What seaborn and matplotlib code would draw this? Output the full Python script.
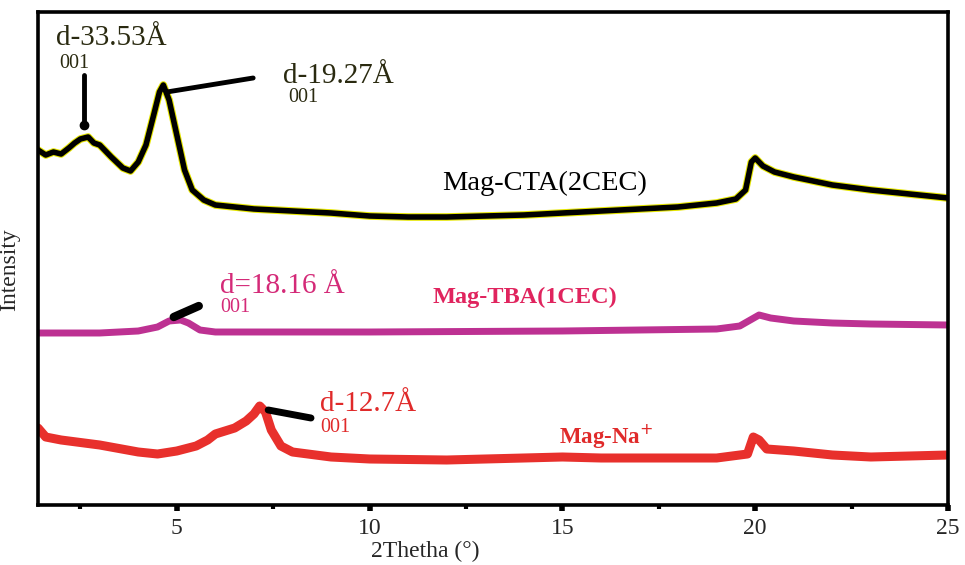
import numpy as np
import pandas as pd
import matplotlib
matplotlib.use("Agg")
import matplotlib.pyplot as plt
import matplotlib.patheffects as pe
import seaborn as sns

# ---- data ----
cta_x = [1.4, 1.6, 1.8, 2.0, 2.2, 2.35, 2.5, 2.7, 2.85, 3.0, 3.3, 3.6, 3.8, 4.0, 4.2, 4.4,
         4.55, 4.65, 4.8, 5.0, 5.2, 5.4, 5.7, 6.0, 6.5, 7.0, 8.0, 9.0, 10.0, 11.0, 12.0,
         13.0, 14.0, 15.0, 16.0, 17.0, 18.0, 19.0, 19.5, 19.75, 19.9, 20.0, 20.2, 20.5,
         21.0, 21.5, 22.0, 23.0, 24.0, 25.0]
cta_y = [355, 350, 353, 351, 357, 362, 366, 368, 362, 360, 348, 337, 334, 343, 360, 390,
         413, 420, 405, 370, 335, 315, 305, 300, 298, 296, 294, 292, 289, 288, 288,
         289, 290, 292, 294, 296, 298, 302, 306, 315, 343, 347, 339, 333,
         328, 324, 320, 315, 311, 307]

tba_x = [1.4, 3.0, 4.0, 4.5, 4.8, 5.1, 5.3, 5.6, 6.0, 10.0, 15.0, 19.0, 19.6, 20.1, 20.4,
         21.0, 22.0, 23.0, 25.0]
tba_y = [172, 172, 174, 178, 184, 185, 182, 175, 173, 173, 174, 176, 179, 190, 187,
         184, 182, 181, 180]

na_x = [1.4, 1.6, 2.0, 3.0, 4.0, 4.5, 5.0, 5.5, 5.8, 6.0, 6.5, 6.8, 7.0, 7.15, 7.3, 7.45,
        7.7, 8.0, 9.0, 10.0, 12.0, 14.0, 15.0, 16.0, 17.0, 19.0, 19.8, 19.95, 20.1, 20.3,
        21.0, 22.0, 23.0, 24.0, 25.0]
na_y = [77, 68, 65, 60, 53, 51, 54, 59, 65, 71, 77, 84, 91, 99, 93, 75,
        59, 53, 48, 46, 45, 47, 48, 47, 47, 47, 51, 68, 65, 56,
        54, 50, 48, 49, 50]

x_ticks = [5, 10, 15, 20, 25]
series_labels = ["Mag-CTA(2CEC)", "Mag-TBA(1CEC)", "Mag-Na$^{+}$"]
peak_labels = ["d-33.53Å", "d-19.27Å", "d=18.16 Å", "d-12.7Å"]

df = pd.concat([
    pd.DataFrame({"x": cta_x, "y": cta_y, "s": "cta"}),
    pd.DataFrame({"x": tba_x, "y": tba_y, "s": "tba"}),
    pd.DataFrame({"x": na_x, "y": na_y, "s": "na"}),
])

sns.set_theme(style="white")
plt.rcParams["font.family"] = ["Liberation Serif", "DejaVu Serif"]

fig = plt.figure(figsize=(9.65, 5.65), dpi=100)
ax = fig.add_axes([38 / 965, 60 / 565, 910 / 965, 493 / 565])

# red Na curve
sns.lineplot(data=df[df.s == "na"], x="x", y="y", ax=ax, color="#e8302c",
             linewidth=6.5, solid_capstyle="round", solid_joinstyle="round")
# magenta TBA curve
sns.lineplot(data=df[df.s == "tba"], x="x", y="y", ax=ax, color="#bd3192",
             linewidth=5, solid_capstyle="round", solid_joinstyle="round")
# black CTA curve with yellow outline
sns.lineplot(data=df[df.s == "cta"], x="x", y="y", ax=ax, color="black",
             linewidth=4, solid_capstyle="round", solid_joinstyle="round")
ax.lines[-1].set_path_effects([pe.Stroke(linewidth=5.5, foreground="#e6e600"), pe.Normal()])

ax.set_xlim(1.4, 25)
ax.set_ylim(0, 493)
ax.set_xticks(x_ticks)
ax.set_xticks([2.5, 7.5, 12.5, 17.5, 22.5], minor=True)
ax.set_yticks([])
ax.tick_params(axis="x", which="major", direction="out", length=4, width=4,
               labelsize=17, pad=5, bottom=True, color="black")
ax.tick_params(axis="x", which="minor", direction="out", length=3, width=3,
               bottom=True, color="black")
for sp in ax.spines.values():
    sp.set_linewidth(2.6)
    sp.set_color("black")

ax.set_xlabel("2Thetha (°)", fontsize=17)
ax.xaxis.set_label_coords(0.425, -0.072)
ax.set_ylabel("Intensity", fontsize=17)
ax.yaxis.set_label_coords(-0.02, 0.477)

big = 21
sub = 14.5
# annotations: CTA low-angle peak
ax.text(1.86, 467, peak_labels[0], fontsize=big, color="#2a2a10", va="center", ha="left")
ax.text(1.96, 441, "001", fontsize=sub, color="#2a2a10", va="center", ha="left")
ax.plot([2.6, 2.6], [430, 382], color="black", linewidth=3.5)
ax.plot([2.6], [380], "o", color="black", markersize=6)
# CTA main peak
ax.text(7.76, 429, peak_labels[1], fontsize=big, color="#2a2a10", va="center", ha="left")
ax.text(7.89, 407, "001", fontsize=sub, color="#2a2a10", va="center", ha="left")
ax.plot([4.74, 6.98], [413, 427], color="black", linewidth=3.5, solid_capstyle="round")
# TBA
ax.text(6.13, 219, peak_labels[2], fontsize=big, color="#d42a78", va="center", ha="left")
ax.text(6.13, 197, "001", fontsize=sub, color="#d42a78", va="center", ha="left")
ax.plot([4.92, 5.57], [188, 199], color="black", linewidth=6, solid_capstyle="round")
# Na
ax.text(8.71, 101, peak_labels[3], fontsize=big, color="#e02a2a", va="center", ha="left")
ax.text(8.71, 78, "001", fontsize=sub, color="#e02a2a", va="center", ha="left")
ax.plot([7.37, 8.48], [95, 87], color="black", linewidth=5, solid_capstyle="round")

# series labels
ax.text(11.88, 322, series_labels[0], fontsize=20.5, color="black", va="center", ha="left")
ax.text(11.62, 208, series_labels[1], fontsize=17.5, color="#e0245e", va="center", ha="left",
        fontweight="bold")
ax.text(14.9, 68, series_labels[2], fontsize=16.5, color="#e02a2a", va="center", ha="left",
        fontweight="bold")

fig.savefig("out.png", dpi=100)
